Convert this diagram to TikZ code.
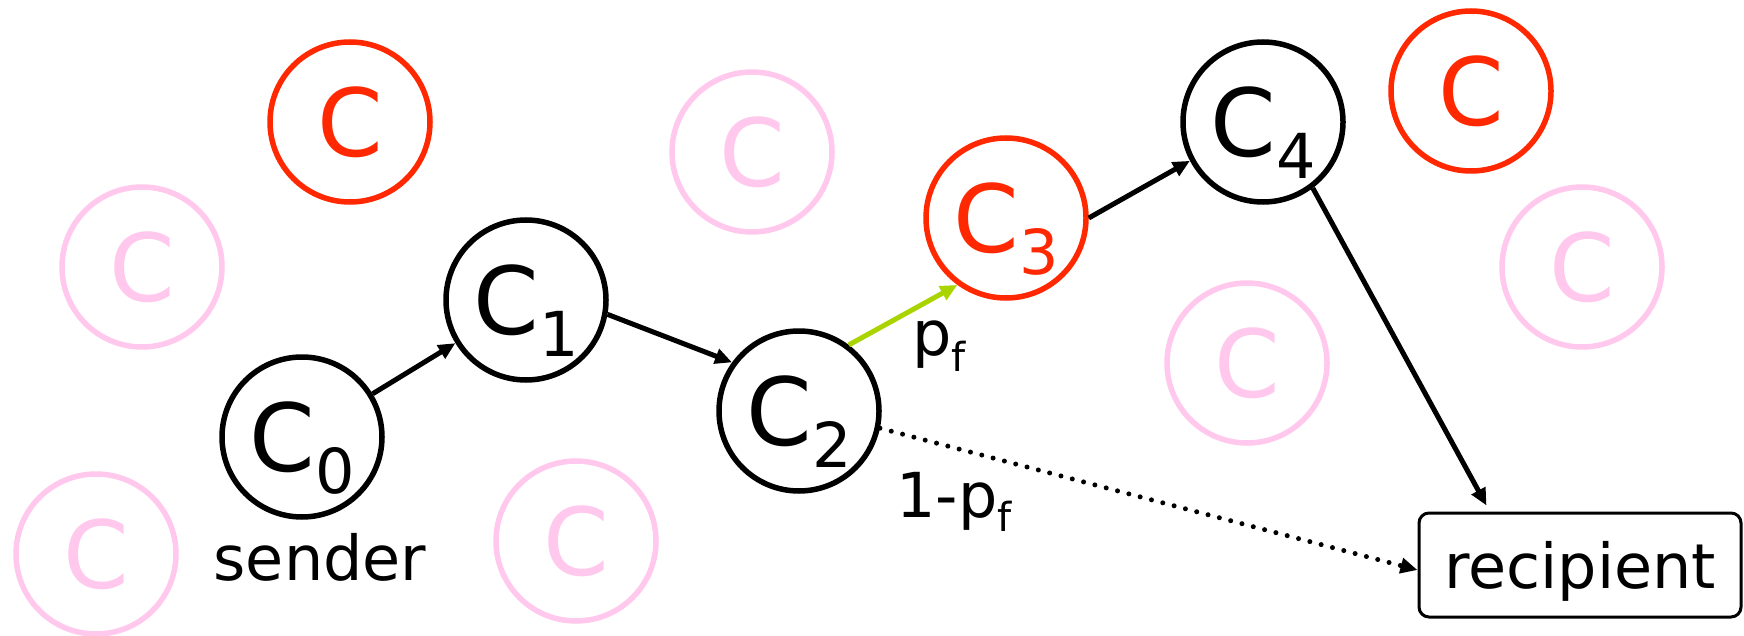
\documentclass[tikz,border=0pt]{standalone}
\usepackage{fontspec}
\setmainfont{DejaVu Sans}
\usetikzlibrary{arrows.meta, calc}

\definecolor{hopred}{RGB}{255,40,0}
\definecolor{idlepink}{RGB}{255,200,236}
\definecolor{forwardgreen}{RGB}{170,212,0}

\begin{document}
\begin{tikzpicture}[x=1pt, y=-1pt, >={Triangle[length=17pt,width=15pt]},
    crowd/.style={circle, draw, line width=5.5pt, minimum size=160pt, inner sep=0pt,
        font=\fontsize{94}{94}\selectfont},
    hop/.style={->, line width=5pt},
    caption/.style={font=\fontsize{62}{62}\selectfont, inner sep=0pt}]
    \useasboundingbox (0,0) rectangle (1744,636);

    % Crowd members off the path
    \node[crowd, idlepink] (p1) at (142,267) {C};
    \node[crowd, idlepink] (p2) at (96,554) {C};
    \node[crowd, idlepink] (p3) at (576,541) {C};
    \node[crowd, idlepink] (p4) at (752,152) {C};
    \node[crowd, idlepink] (p5) at (1247,363) {C};
    \node[crowd, idlepink] (p6) at (1582,267) {C};
    \node[crowd, hopred] (r1) at (350,122) {C};
    \node[crowd, hopred] (r2) at (1471,91) {C};

    % Path
    \node[crowd] (c0) at (302,437) {C\smash{\raisebox{-22pt}{\fontsize{62}{62}\selectfont 0}}};
    \node[crowd] (c1) at (526,300) {C\smash{\raisebox{-22pt}{\fontsize{62}{62}\selectfont 1}}};
    \node[crowd] (c2) at (799,411) {C\smash{\raisebox{-22pt}{\fontsize{62}{62}\selectfont 2}}};
    \node[crowd, hopred] (c3) at (1006,218) {C\smash{\raisebox{-22pt}{\fontsize{62}{62}\selectfont 3}}};
    \node[crowd] (c4) at (1263,122) {C\smash{\raisebox{-22pt}{\fontsize{62}{62}\selectfont 4}}};
    \node[caption, anchor=base] (sender) at (320,580) {sender};
    \node[caption, draw, line width=3pt, rounded corners=10pt, minimum width=322pt,
        minimum height=104pt, text depth=0pt] (rec) at (1580,565) {recipient};

    % Links
    \draw[hop] (c0) -- (c1);
    \draw[hop] (c1.-10) -- (c2.144);
    \draw[hop, forwardgreen] (c2.53) -- (c3.234);
    \draw[hop] (c3.east) -- (c4.208);
    \draw[hop] (c4.307) -- ([xshift=69pt,yshift=6pt]rec.north west);
    \draw[hop, line cap=round, dash pattern=on 0pt off 11.7pt]
        (c2.-12) -- ([yshift=-5pt]rec.west);

    % Probabilities
    \node[caption, anchor=base west] (pf) at (912,355)
        {p\raisebox{-16pt}{\fontsize{40}{40}\selectfont f}};
    \node[caption, anchor=base west] (qf) at (896,517)
        {1-p\raisebox{-14pt}{\fontsize{40}{40}\selectfont f}};
\end{tikzpicture}
\end{document}
